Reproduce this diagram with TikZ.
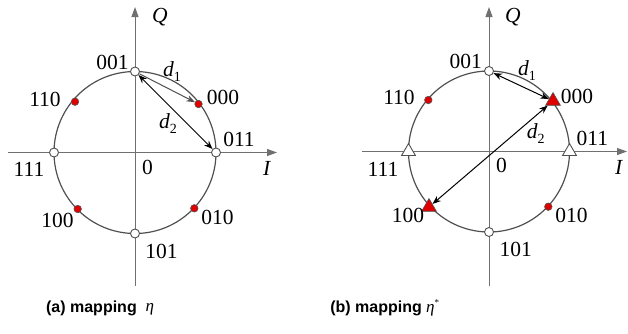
\documentclass[tikz,border=0pt]{standalone}
\usepackage{fontspec}
\setmainfont{Liberation Serif}
\newfontfamily\capfont{Liberation Sans}
\usetikzlibrary{arrows.meta,shapes.geometric}
\definecolor{axisgray}{HTML}{707070}
\definecolor{circgray}{HTML}{505050}
\definecolor{mkred}{HTML}{E00000}
\tikzset{
  lbl/.style={inner sep=0pt, font=\fontsize{21.5}{21.5}\selectfont},
  captxt/.style={inner sep=0pt, anchor=east, font=\capfont\bfseries\fontsize{16}{16}\selectfont},
  etatxt/.style={inner sep=0pt, anchor=west, font=\fontsize{17}{17}\selectfont},
  axis/.style={draw=axisgray, line width=1pt, -{Triangle[length=10pt,width=7pt]}},
  ring/.style={draw=circgray, line width=1.2pt},
  opendot/.style={circle, draw=circgray, fill=white, line width=0.9pt, minimum size=9pt, inner sep=0pt},
  reddot/.style={circle, draw=circgray, fill=mkred, line width=0.6pt, minimum size=7.5pt, inner sep=0pt},
  opentri/.style={regular polygon, regular polygon sides=3, draw=circgray, fill=white, line width=0.9pt, minimum size=16pt, inner sep=0pt},
  redtri/.style={regular polygon, regular polygon sides=3, draw=circgray, fill=mkred, line width=0.6pt, minimum size=17pt, inner sep=0pt},
  darr/.style={black, line width=1pt, {Stealth[length=8.5pt,width=6.5pt]}-{Stealth[length=8.5pt,width=6.5pt]}},
  garr/.style={draw=circgray, line width=1pt, -{Stealth[length=8.5pt,width=6.5pt]}}
}
\newcommand{\dlab}[1]{\textit{d}\raisebox{-5pt}{\fontsize{14}{14}\selectfont #1}}
\begin{document}
\begin{tikzpicture}[x=1pt,y=-1pt]
\useasboundingbox (0,0) rectangle (628,333);
% ---------- panel (a) ----------
\coordinate (ca) at (135,152.5);
\coordinate (ab) at (135,286);
\coordinate (at) at (135,7);
\coordinate (al) at (8,152.5);
\coordinate (ar) at (277,152.5);
\draw[axis] (ab) -- (at);
\draw[axis] (al) -- (ar);
\draw[ring] (ca) circle[radius=81pt];
\node[opendot] (a001) at (135,71.5) {};
\node[opendot] (a011) at (216,152.5) {};
\node[opendot] (a111) at (54,152.5) {};
\node[opendot] (a101) at (135,233.5) {};
\node[reddot] (a000) at (198.5,104) {};
\node[reddot] (a110) at (75,101.7) {};
\node[reddot] (a100) at (77.7,209) {};
\node[reddot] (a010) at (194.3,208.3) {};
\draw[garr] (a001) -- (a000);
\draw[darr] (a001) -- (a011);
\node[lbl] (aQ) at (160,17) {\textit{Q}};
\node[lbl] (aI) at (267,168) {\textit{I}};
\node[lbl] (a0) at (147.5,167) {0};
\node[lbl] (ta001) at (112.5,62.5) {001};
\node[lbl] (ta000) at (223,97.5) {000};
\node[lbl] (ta110) at (45,99) {110};
\node[lbl] (ta011) at (239,139) {011};
\node[lbl] (ta111) at (29,169) {111};
\node[lbl] (ta100) at (57.5,220) {100};
\node[lbl] (ta010) at (217.5,217.5) {010};
\node[lbl] (ta101) at (161.5,251) {101};
\node[lbl] (ad1) at (172,72) {\dlab{1}};
\node[lbl] (ad2) at (168,124) {\dlab{2}};
\node[captxt] (acap) at (137,308) {(a) mapping};
\node[etatxt] (aeta) at (145.5,309) {\textit{η}};
% ---------- panel (b) ----------
\coordinate (cb) at (489,151.5);
\coordinate (bb) at (489,286);
\coordinate (bt) at (489,7);
\coordinate (bl) at (362,151.5);
\coordinate (br) at (627,151.5);
\draw[axis] (bb) -- (bt);
\draw[axis] (bl) -- (br);
\draw[ring] (cb) circle[radius=80.5pt];
\node[opendot] (b001) at (489,71) {};
\node[opendot] (b101) at (489,232) {};
\node[opentri] (b011) at (569.5,151.5) {};
\node[opentri] (b111) at (408.5,151.5) {};
\node[redtri] (b000) at (553,101) {};
\node[redtri] (b100) at (429,207) {};
\node[reddot] (b110) at (428.3,100) {};
\node[reddot] (b010) at (548.3,206.7) {};
\draw[darr] (b001) -- (b000);
\draw[darr] (b100) -- (b000);
\node[lbl] (bQ) at (513,17) {\textit{Q}};
\node[lbl] (bI) at (619,167.5) {\textit{I}};
\node[lbl] (b0) at (501.5,165.5) {0};
\node[lbl] (tb001) at (465.7,61) {001};
\node[lbl] (tb000) at (577,96.7) {000};
\node[lbl] (tb110) at (399,97) {110};
\node[lbl] (tb011) at (592.3,138.5) {011};
\node[lbl] (tb111) at (383,169) {111};
\node[lbl] (tb100) at (408,215) {100};
\node[lbl] (tb010) at (571.5,215.5) {010};
\node[lbl] (tb101) at (515.7,249.5) {101};
\node[lbl] (bd1) at (527,71) {\dlab{1}};
\node[lbl] (bd2) at (535.7,134) {\dlab{2}};
\node[captxt] (bcap) at (422,308) {(b) mapping};
\node[etatxt] (beta) at (426,308) {\textit{η}\raisebox{7pt}{\fontsize{9}{9}\selectfont *}};
\end{tikzpicture}
\end{document}
